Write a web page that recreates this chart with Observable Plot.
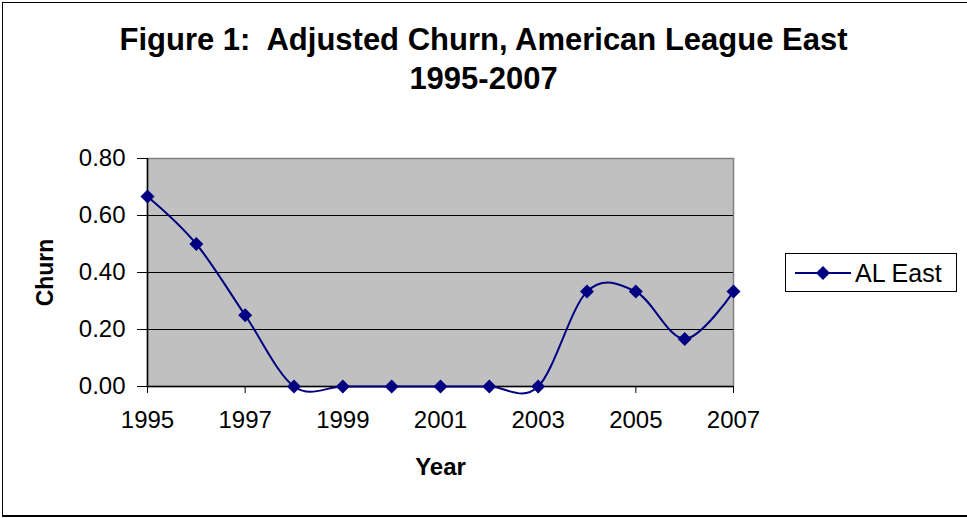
<!DOCTYPE html>
<html>
<head>
<meta charset="utf-8">
<script src="https://cdn.jsdelivr.net/npm/d3@7"></script>
<script src="https://cdn.jsdelivr.net/npm/@observablehq/plot@0.6"></script>
<style>
  html, body { margin: 0; padding: 0; background: #fff; }
  #wrap { position: relative; width: 967px; height: 519px; overflow: hidden; font-family: "Liberation Sans", Arial, sans-serif; }
  #frame { position: absolute; left: 2px; top: 2px; width: 970px; height: 512px; border-left: 1.5px solid #000; border-top: 1.5px solid #000; border-bottom: 2px solid #000; }
  #title { position: absolute; left: 0; width: 967px; top: 20px; text-align: center; font-weight: bold; font-size: 31px; line-height: 39px; color: #000; }
  #legend { position: absolute; left: 785px; top: 253px; width: 172px; height: 39px; border: 1px solid #000; background: #fff; box-sizing: border-box; }
  #legend svg { position: absolute; left: 0; top: 0; }
  #legend span { position: absolute; left: 69px; top: 5px; font-size: 25px; line-height: 28px; color: #000; }
  #chart { position: absolute; left: 0; top: 0; }
</style>
</head>
<body>
<div id="wrap">
  <div id="frame"></div>
  <div id="chart"></div>
  <div id="title">Figure 1:&nbsp; Adjusted Churn, American League East<br>1995-2007</div>
  <div id="legend">
    <svg width="172" height="39"><line x1="9" x2="65" y1="19" y2="19" stroke="#000080" stroke-width="2"/><path d="M37,12 L44,19 L37,26 L30,19 Z" fill="#000080"/></svg>
    <span>AL East</span>
  </div>
</div>
<script>
const years = [1995, 1996, 1997, 1998, 1999, 2000, 2001, 2002, 2003, 2004, 2005, 2006, 2007];
const churn = [0.667, 0.5, 0.25, 0, 0, 0, 0, 0, 0, 0.333, 0.333, 0.167, 0.333];
const xTicks = [1995, 1997, 1999, 2001, 2003, 2005, 2007];
const yTicks = [0, 0.2, 0.4, 0.6, 0.8];
const seriesName = "AL East";
const yLabel = "Churn";
const xLabel = "Year";

const data = years.map((y, i) => ({year: y, churn: churn[i]}));
const navy = "#000080";

const chart = Plot.plot({
  width: 967,
  height: 519,
  marginLeft: 147,
  marginRight: 234,
  marginTop: 158,
  marginBottom: 133,
  style: {fontFamily: "'Liberation Sans', Arial, sans-serif", fontSize: "24px", color: "#000", background: "transparent", overflow: "visible"},
  x: {domain: [1995, 2007], label: null},
  y: {domain: [0, 0.8], label: null},
  marks: [
    Plot.frame({fill: "#c0c0c0", stroke: "#808080", strokeWidth: 1.5}),
    Plot.gridY(yTicks.filter(d => d > 0 && d < 0.8), {stroke: "#000", strokeOpacity: 1, strokeWidth: 1}),
    Plot.ruleX([1995], {stroke: "#000", strokeWidth: 1.5}),
    Plot.ruleY([0], {stroke: "#000", strokeWidth: 1.5}),
    Plot.axisX({ticks: xTicks, tickFormat: d => String(d), tickSize: 7, tickPadding: 17, stroke: "#000", fontSize: 24, label: null}),
    Plot.axisY({ticks: yTicks, tickFormat: d => d.toFixed(2), tickSize: 10, tickPadding: 12, stroke: "#000", fontSize: 24, label: null}),
    Plot.line(data, {x: "year", y: "churn", curve: "cardinal", stroke: navy, strokeWidth: 2}),
    Plot.dot(data, {x: "year", y: "churn", symbol: "diamond2", fill: navy, stroke: "none", r: 6.3}),
    Plot.text([yLabel], {frameAnchor: "left", dx: -102, rotate: -90, textAnchor: "middle", fontWeight: "bold", fontSize: 23, fill: "#000"}),
    Plot.text([xLabel], {frameAnchor: "bottom", dy: 88, fontWeight: "bold", fontSize: 24, fill: "#000"})
  ]
});
document.getElementById("chart").appendChild(chart);
</script>
</body>
</html>
